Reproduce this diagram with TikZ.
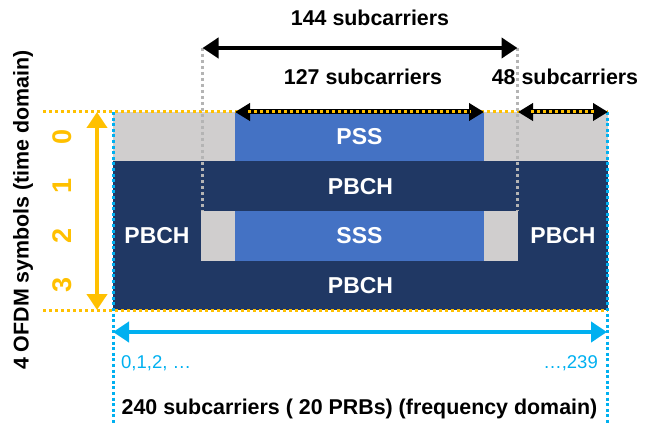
\documentclass[tikz,border=0pt]{standalone}
\usepackage{fontspec}
\setmainfont{Liberation Sans}
\usetikzlibrary{arrows.meta}

\definecolor{navy}{HTML}{203864}
\definecolor{pssblue}{HTML}{4472C4}
\definecolor{cellgray}{HTML}{D0CECE}
\definecolor{amber}{HTML}{FFC000}
\definecolor{skyblue}{HTML}{00B0F0}
\definecolor{guidegray}{HTML}{B4B4B4}

\begin{document}
\begin{tikzpicture}[x=1pt,y=-1pt,
  cell/.style={anchor=north west,inner sep=0pt,outer sep=0pt,draw=none,
    text=white,font=\fontsize{23}{27}\selectfont\bfseries},
  graycell/.style={cell,fill=cellgray},
  pbchcell/.style={cell,fill=navy},
  synccell/.style={cell,fill=pssblue},
  lbl/.style={font=\fontsize{21.4}{25}\selectfont\bfseries,inner sep=0pt},
  symnum/.style={font=\fontsize{27}{31}\selectfont\bfseries,text=amber,rotate=90,inner sep=0pt},
  idx/.style={font=\fontsize{18.5}{22}\selectfont,text=skyblue,inner sep=0pt},
  guide/.style={guidegray,line width=3pt,dash pattern=on 3pt off 3pt},
  ydots/.style={amber,line width=3pt,dash pattern=on 3pt off 3pt},
  bdots/.style={skyblue,line width=3pt,dash pattern=on 3pt off 2.6pt},
  bigarrow/.style={line width=4.5pt,{Triangle[length=16pt,width=20pt]}-{Triangle[length=16pt,width=20pt]}},
  spanarrow/.style={black,line width=5pt,{Triangle[length=15pt,width=17pt]}-{Triangle[length=15pt,width=17pt]}},
  spandots/.style={amber,line width=3pt,dash pattern=on 3pt off 3pt},
]
\useasboundingbox (0,0) rectangle (656,425);

% ---- resource grid: 4 symbols x 240 subcarriers ----
% symbol 0
\node[graycell,minimum width=122pt,minimum height=49.5pt] (g0l) at (113,112) {};
\node[synccell,minimum width=249pt,minimum height=49.5pt] (pss) at (235,112) {PSS};
\node[graycell,minimum width=124pt,minimum height=49.5pt] (g0r) at (484,112) {};
% symbol 1
\node[pbchcell,minimum width=495pt,minimum height=49.5pt] (pbch1) at (113,161.5) {PBCH};
% symbol 2
\node[pbchcell,minimum width=88pt,minimum height=49.5pt] (pbch2l) at (113,211) {PBCH};
\node[graycell,minimum width=34pt,minimum height=49.5pt] (g2l) at (201,211) {};
\node[synccell,minimum width=249pt,minimum height=49.5pt] (sss) at (235,211) {SSS};
\node[graycell,minimum width=34pt,minimum height=49.5pt] (g2r) at (484,211) {};
\node[pbchcell,minimum width=90pt,minimum height=49.5pt] (pbch2r) at (518,211) {PBCH};
% symbol 3
\node[pbchcell,minimum width=495pt,minimum height=49.5pt] (pbch3) at (113,260.5) {PBCH};

% ---- guide lines ----
\coordinate (ytl) at (43,112);
\coordinate (ytr) at (608,112);
\coordinate (ybl) at (43,310);
\coordinate (ybr) at (608,310);
\draw[ydots] (ytl) -- (ytr);
\draw[ydots] (ybl) -- (ybr);

\coordinate (btl) at (113,112);
\coordinate (bbl) at (113,423);
\coordinate (btr) at (607,112);
\coordinate (bbr) at (607,423);
\draw[bdots] (btl) -- (bbl);
\draw[bdots] (btr) -- (bbr);

\coordinate (ssbL) at (202.5,48);
\coordinate (ssbLb) at (202.5,211);
\coordinate (ssbR) at (517.5,48);
\coordinate (ssbRb) at (517.5,211);
\draw[guide] (ssbL) -- (ssbLb);
\draw[guide] (ssbR) -- (ssbRb);

% ---- span arrows ----
\draw[black,bigarrow] (ssbL) -- (ssbR);
\node[lbl] (t144) at (370,18) {144 subcarriers};

\coordinate (a127l) at (235,112);
\coordinate (a127r) at (484,112);
\coordinate (a48l) at (518,112);
\coordinate (a48r) at (608,112);
\draw[spanarrow] (a127l) -- (a127r);
\draw[spandots] ([xshift=13pt]a127l) -- ([xshift=-13pt]a127r);
\draw[spanarrow] (a48l) -- (a48r);
\draw[spandots] ([xshift=13pt]a48l) -- ([xshift=-13pt]a48r);
\node[lbl] (t127) at (363,77) {127 subcarriers};
\node[lbl] (t48) at (565,77) {48 subcarriers};

% ---- time axis ----
\coordinate (tt) at (97,112);
\coordinate (tb) at (97,310);
\draw[amber,bigarrow] (tt) -- (tb);
\node[lbl,rotate=90] (ttitle) at (23,210) {4 OFDM symbols (time domain)};
\node[symnum] (s0) at (62,137) {0};
\node[symnum] (s1) at (62,186) {1};
\node[symnum] (s2) at (62,236) {2};
\node[symnum] (s3) at (62,285) {3};

% ---- frequency axis ----
\coordinate (fl) at (113,332);
\coordinate (fr) at (607,332);
\draw[skyblue,bigarrow] (fl) -- (fr);
\node[idx,anchor=west] (i0) at (121,363) {0,1,2, …};
\node[idx,anchor=east] (i239) at (598,363) {…,239};
\node[lbl] (ftitle) at (359.5,409) {240 subcarriers ( 20 PRBs) (frequency domain)};
\end{tikzpicture}
\end{document}
